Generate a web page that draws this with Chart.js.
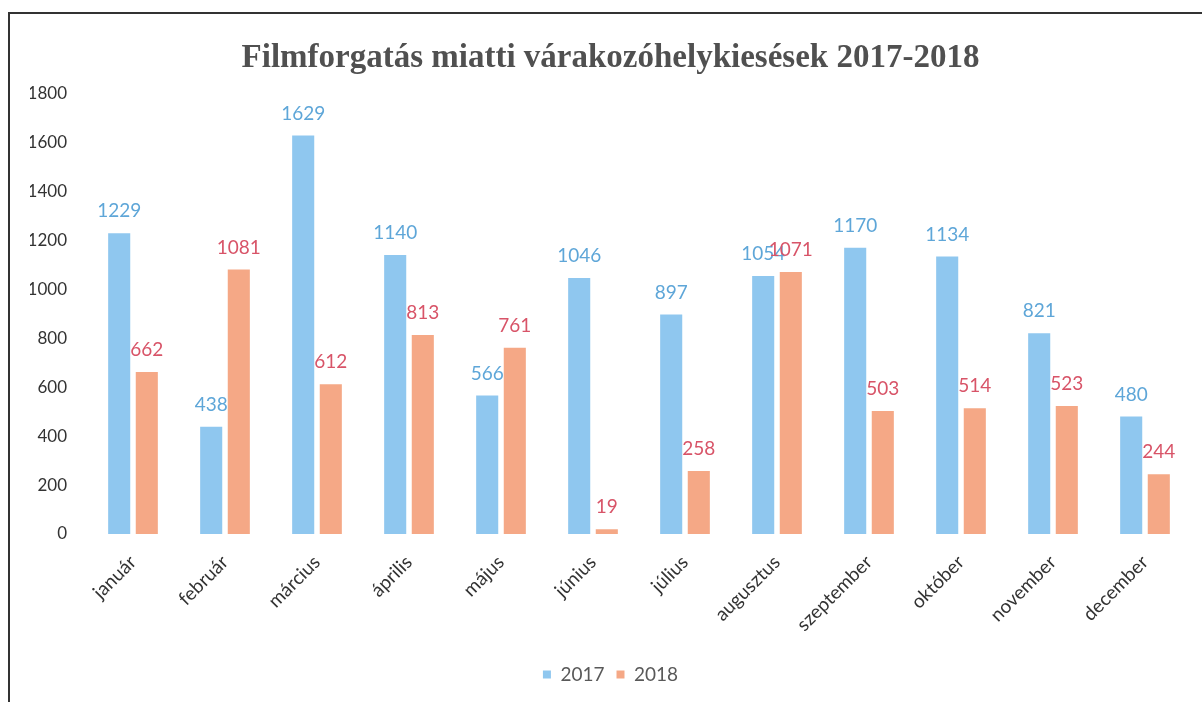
<!DOCTYPE html>
<html>
<head>
<meta charset="utf-8">
<script src="https://cdn.jsdelivr.net/npm/chart.js@4"></script>
<style>
  html, body { margin: 0; padding: 0; background: #fff; }
  #frame {
    position: absolute; left: 8px; top: 12px; width: 1200px; height: 692px;
    border-left: 2px solid #333; border-top: 2px solid #333;
  }
  #wrap { position: absolute; left: 0; top: 0; width: 1202px; height: 702px; }
</style>
</head>
<body>
<div id="frame"></div>
<div id="wrap"><canvas id="chart" width="1202" height="702"></canvas></div>
<script>
// Filmforgatás miatti várakozóhelykiesések
const months = ['január', 'február', 'március', 'április', 'május', 'június',
  'július', 'augusztus', 'szeptember', 'október', 'november', 'december'];
const values2017 = [1229, 438, 1629, 1140, 566, 1046, 897, 1054, 1170, 1134, 821, 480];
const values2018 = [662, 1081, 612, 813, 761, 19, 258, 1071, 503, 514, 523, 244];
const yTicks = [0, 200, 400, 600, 800, 1000, 1200, 1400, 1600, 1800];

// draws the value above each bar
const valueLabels = {
  id: 'valueLabels',
  afterDatasetsDraw(chart) {
    const ctx = chart.ctx;
    ctx.save();
    ctx.font = '19px Lato';
    ctx.textAlign = 'center';
    ctx.textBaseline = 'middle';
    chart.data.datasets.forEach((ds, i) => {
      const meta = chart.getDatasetMeta(i);
      ctx.fillStyle = ds.labelColor;
      meta.data.forEach((bar, j) => {
        ctx.fillText(String(ds.data[j]), bar.x, bar.y - 22);
      });
    });
    ctx.restore();
  }
};

new Chart(document.getElementById('chart').getContext('2d'), {
  type: 'bar',
  data: {
    labels: months,
    datasets: [
      {
        label: '2017',
        data: values2017,
        backgroundColor: '#8fc7ef',
        labelColor: '#5ea6d8',
        barPercentage: 0.8,
        categoryPercentage: 0.6
      },
      {
        label: '2018',
        data: values2018,
        backgroundColor: '#f5a886',
        labelColor: '#d85468',
        barPercentage: 0.8,
        categoryPercentage: 0.6
      }
    ]
  },
  options: {
    responsive: false,
    animation: false,
    layout: { padding: { left: 30, right: 11, top: 10, bottom: 8 } },
    plugins: {
      title: {
        display: true,
        text: 'Filmforgatás miatti várakozóhelykiesések 2017-2018',
        color: '#505050',
        font: { family: 'Liberation Serif', size: 33, weight: 'bold' },
        padding: { top: 29, bottom: 15 }
      },
      legend: {
        position: 'bottom',
        labels: {
          color: '#595959',
          font: { family: 'Lato', size: 19 },
          boxWidth: 8,
          boxHeight: 8,
          padding: 12
        }
      },
      tooltip: { enabled: false }
    },
    scales: {
      x: {
        grid: { display: false },
        border: { display: false },
        afterFit: function(scale) {
          scale.height = 119;
        },
        ticks: {
          color: '#333',
          font: { family: 'Lato', size: 19 },
          minRotation: 45,
          maxRotation: 45,
          padding: 9
        }
      },
      y: {
        min: 0,
        max: 1800,
        grid: { display: false },
        border: { display: false },
        afterBuildTicks: function(scale) {
          scale.ticks = yTicks.map(v => ({ value: v }));
        },
        afterFit: function(scale) {
          scale.width = 57;
        },
        ticks: {
          color: '#333',
          font: { family: 'Lato', size: 17 },
          padding: 12,
          callback: function(value) {
            return String(value);
          }
        }
      }
    }
  },
  plugins: [valueLabels]
});
</script>
</body>
</html>
